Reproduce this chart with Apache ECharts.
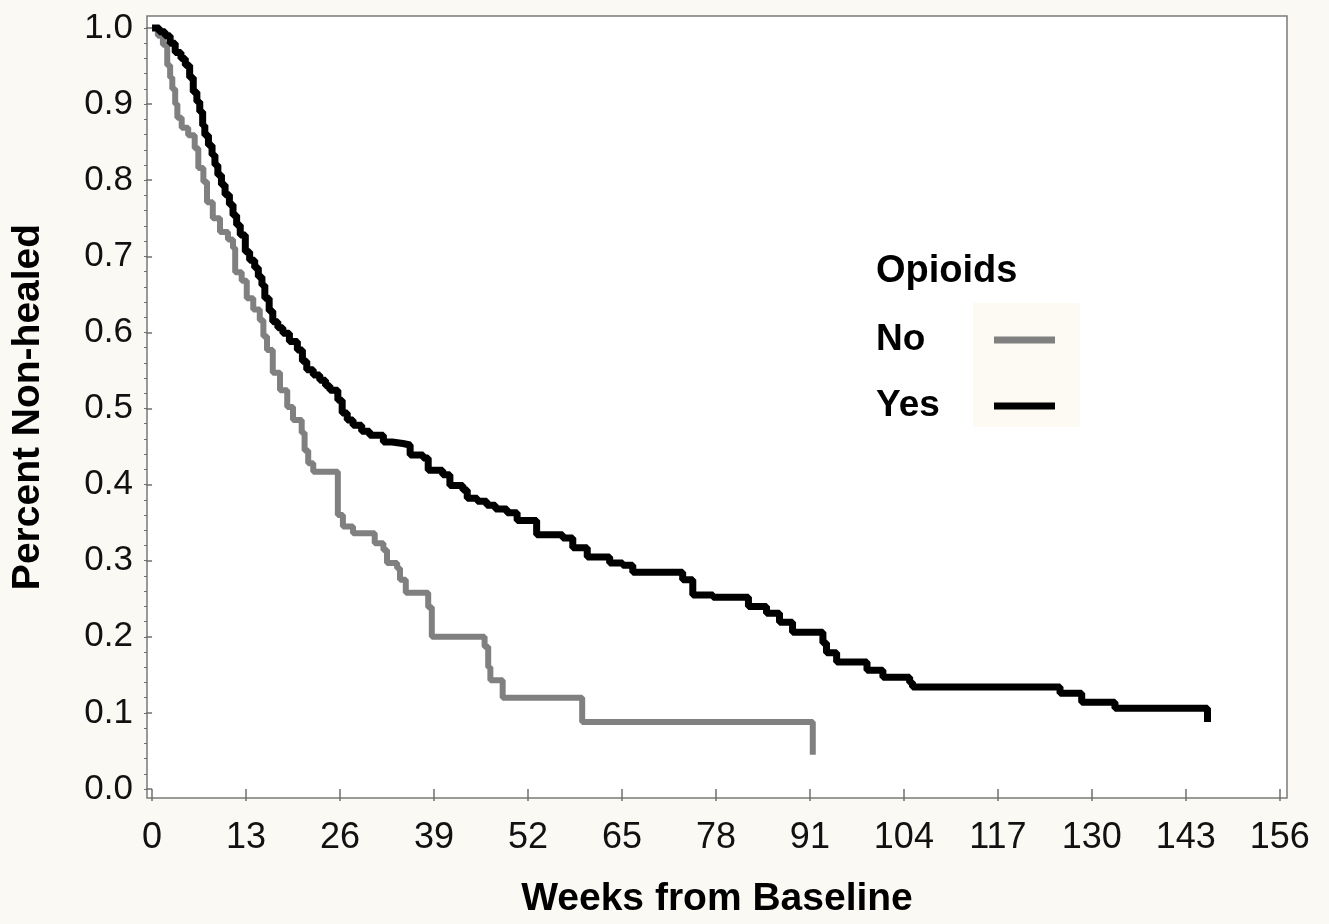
<!DOCTYPE html>
<html>
<head>
<meta charset="utf-8">
<script src="https://cdn.jsdelivr.net/npm/echarts@6/dist/echarts.min.js"></script>
<style>
  html, body { margin: 0; padding: 0; background: #fbf9f4; }
  #chart { width: 1329px; height: 924px; }
</style>
</head>
<body>
<div id="chart"></div>
<script>
// ---- Data (weeks, proportion non-healed) ----
const seriesNames = ['No', 'Yes'];
const legendTitle = 'Opioids';

const noWeeks = [0, 0.8, 1.5, 2.1, 2.5, 2.8, 3.2, 3.5, 4.1, 5.0, 5.9, 6.4, 7.1, 7.6, 8.4, 9.4, 10.5, 11.2, 11.5, 12.4, 13.1, 14.0, 14.9, 15.4, 15.9, 16.7, 17.7, 18.7, 19.5, 20.7, 21.1, 21.6, 22.3, 25.7, 26.4, 27.8, 30.8, 32.0, 32.5, 33.9, 34.3, 35.1, 38.2, 38.7, 46.0, 46.5, 46.8, 48.5, 59.5, 91.4];
const noValues = [1.0, 0.99, 0.978, 0.951, 0.935, 0.92, 0.9, 0.882, 0.869, 0.859, 0.842, 0.816, 0.798, 0.771, 0.75, 0.732, 0.722, 0.711, 0.679, 0.668, 0.645, 0.63, 0.616, 0.595, 0.577, 0.547, 0.524, 0.502, 0.485, 0.468, 0.445, 0.428, 0.417, 0.36, 0.345, 0.336, 0.323, 0.314, 0.297, 0.29, 0.275, 0.258, 0.239, 0.2, 0.187, 0.16, 0.143, 0.12, 0.088, 0.045];

const yesWeeks = [0, 1.0, 1.8, 2.5, 3.2, 4.0, 4.6, 5.2, 5.7, 6.2, 6.6, 7.0, 7.3, 7.8, 8.3, 8.7, 9.1, 9.6, 10.1, 10.7, 11.2, 11.7, 12.2, 12.9, 13.5, 14.2, 14.7, 15.2, 15.6, 16.2, 16.7, 17.4, 18.1, 19.0, 20.1, 20.8, 21.4, 22.3, 23.2, 24.0, 24.6, 25.7, 26.3, 27.0, 27.8, 29.0, 30.1, 32.0, 33.2, 34.7, 35.7, 37.5, 38.2, 40.2, 41.2, 43.0, 43.6, 45.0, 46.3, 47.5, 49.1, 50.5, 53.2, 56.8, 58.2, 60.2, 63.3, 65.1, 66.5, 73.4, 74.8, 77.6, 82.5, 85.0, 86.8, 88.6, 92.8, 93.3, 94.7, 98.9, 101.1, 104.8, 105.2, 125.6, 128.6, 133.2, 146.0];
const yesValues = [1.0, 0.995, 0.99, 0.98, 0.968, 0.96, 0.951, 0.935, 0.916, 0.903, 0.89, 0.872, 0.859, 0.846, 0.833, 0.82, 0.807, 0.794, 0.781, 0.768, 0.754, 0.741, 0.728, 0.706, 0.695, 0.685, 0.673, 0.662, 0.645, 0.628, 0.614, 0.606, 0.599, 0.588, 0.577, 0.562, 0.551, 0.544, 0.537, 0.53, 0.524, 0.511, 0.494, 0.485, 0.478, 0.47, 0.465, 0.456, 0.454, 0.452, 0.439, 0.435, 0.419, 0.413, 0.399, 0.393, 0.382, 0.378, 0.373, 0.368, 0.363, 0.353, 0.334, 0.33, 0.317, 0.305, 0.297, 0.294, 0.285, 0.275, 0.255, 0.252, 0.24, 0.231, 0.219, 0.206, 0.192, 0.179, 0.167, 0.156, 0.147, 0.14, 0.134, 0.126, 0.114, 0.106, 0.088];

const xTicks = [0, 13, 26, 39, 52, 65, 78, 91, 104, 117, 130, 143, 156];
const yTicks = [0, 0.1, 0.2, 0.3, 0.4, 0.5, 0.6, 0.7, 0.8, 0.9, 1.0];
const xTitle = 'Weeks from Baseline';
const yTitle = 'Percent Non-healed';

// minor y ticks every 0.02
const yMinor = [];
for (let i = 0; i <= 50; i++) yMinor.push(+(i * 0.02).toFixed(2));

const zip = (a, b) => a.map((v, i) => [v, b[i]]);

const chart = echarts.init(document.getElementById('chart'), null, { renderer: 'canvas' });
const font = '"Liberation Sans", Arial, sans-serif';
const axisGray = '#707070';

chart.setOption({
  animation: false,
  backgroundColor: '#fbf9f4',
  title: {
    text: legendTitle,
    left: 876, top: 253, padding: 0,
    textStyle: { fontFamily: font, fontSize: 38, fontWeight: 'bold', color: '#000' }
  },
  graphic: [{
    type: 'rect', left: 973, top: 303, z: 0,
    shape: { width: 107, height: 124 },
    style: { fill: '#fcfaf3' }
  }],
  legend: {
    orient: 'vertical', left: 876, top: 320, padding: 0,
    align: 'right', icon: 'rect', itemWidth: 61, itemHeight: 7, itemGap: 26,
    selectedMode: false,
    data: seriesNames,
    formatter: '{t|{name}}',
    textStyle: {
      fontFamily: font, fontSize: 37, fontWeight: 'bold', color: '#000', lineHeight: 40,
      rich: { t: { width: 113, align: 'left', fontFamily: font, fontSize: 37, fontWeight: 'bold', color: '#000', lineHeight: 40 } }
    }
  },
  grid: {
    left: 147, top: 16, right: 42, bottom: 126,
    show: true, backgroundColor: '#ffffff', borderColor: '#7a7a7a', borderWidth: 1.5
  },
  xAxis: {
    type: 'value', min: -0.7, max: 157,
    axisLine: { show: false },
    splitLine: { show: false },
    axisTick: { show: true, length: 12, customValues: xTicks, lineStyle: { color: axisGray, width: 1.5 } },
    axisLabel: { customValues: xTicks, margin: 22, fontFamily: font, fontSize: 36, color: '#111' },
    name: xTitle, nameLocation: 'middle', nameGap: 82,
    nameTextStyle: { fontFamily: font, fontSize: 39, fontWeight: 'bold', color: '#000' }
  },
  yAxis: [{
    type: 'value', min: -0.0118, max: 1.0158, position: 'left',
    axisLine: { show: false },
    splitLine: { show: false },
    axisTick: { show: true, length: 6, customValues: yTicks, lineStyle: { color: axisGray, width: 1.5 } },
    axisLabel: { customValues: yTicks, margin: 14, fontFamily: font, fontSize: 35, color: '#111',
      formatter: v => Number(v).toFixed(1) },
    name: yTitle, nameLocation: 'middle', nameGap: 99, nameRotate: 90,
    nameTextStyle: { fontFamily: font, fontSize: 39, fontWeight: 'bold', color: '#000' }
  }, {
    type: 'value', min: -0.0118, max: 1.0158, position: 'left', offset: 0,
    axisLine: { show: false },
    splitLine: { show: false },
    axisTick: { show: true, length: 3, customValues: yMinor, lineStyle: { color: axisGray, width: 1 } },
    axisLabel: { show: false }
  }],
  series: [{
    name: seriesNames[0], type: 'line', step: 'end', showSymbol: false, symbol: 'none',
    data: zip(noWeeks, noValues),
    color: '#808080',
    lineStyle: { color: '#808080', width: 6 },
    z: 2
  }, {
    name: seriesNames[1], type: 'line', step: 'end', showSymbol: false, symbol: 'none',
    data: zip(yesWeeks, yesValues),
    color: '#000000',
    lineStyle: { color: '#000000', width: 7 },
    z: 3
  }]
});
</script>
</body>
</html>
